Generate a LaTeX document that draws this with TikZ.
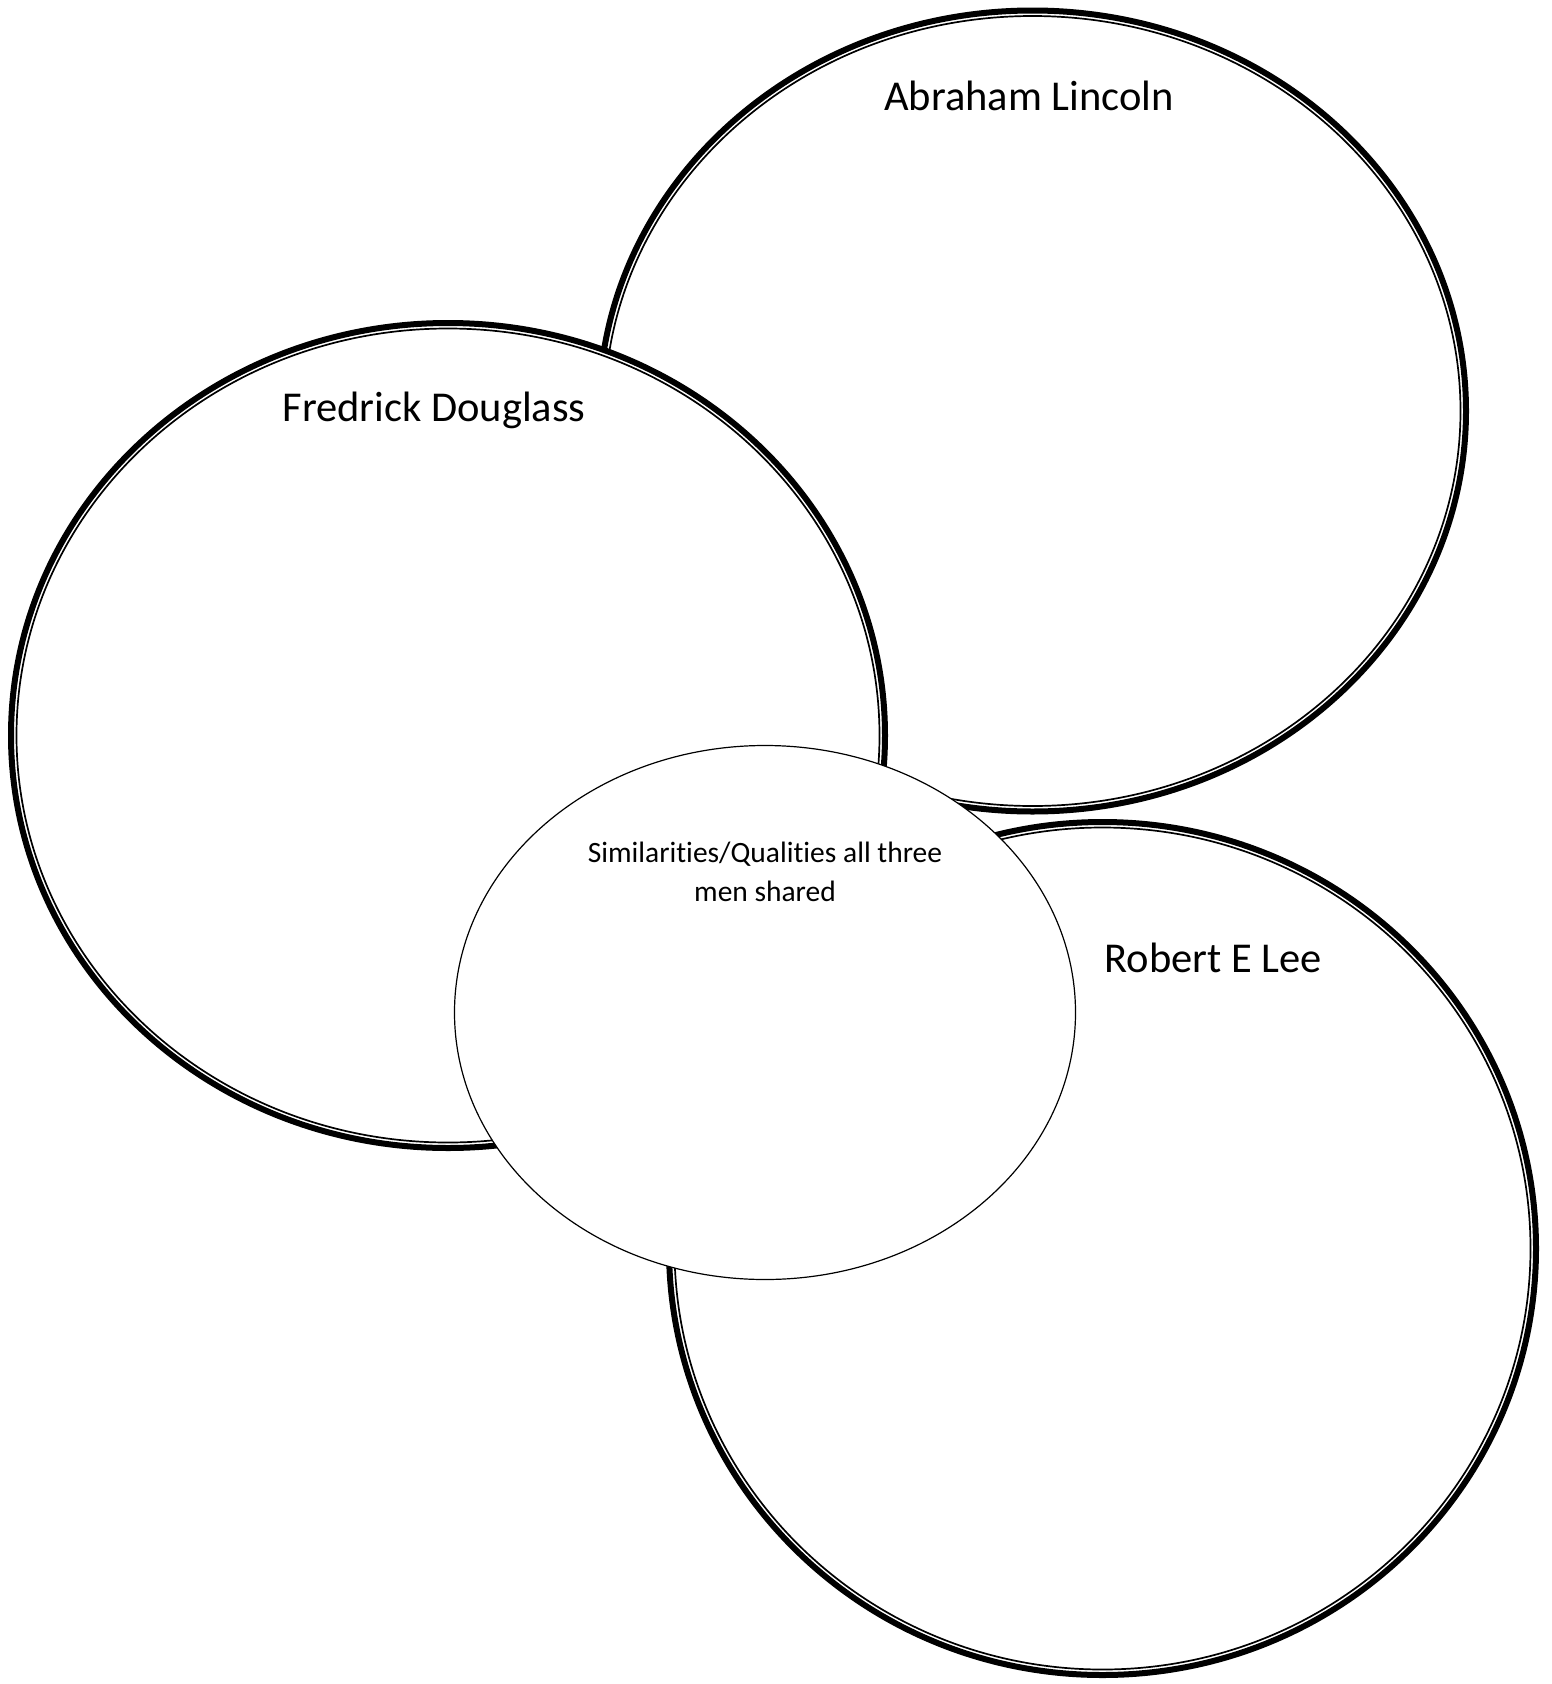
\documentclass[tikz,border=0pt]{standalone}
\usepackage{fontspec}
\setmainfont{Carlito}[Ligatures={NoCommon}]
\usetikzlibrary{shapes.geometric}
\tikzset{
ring/.style={ellipse, draw, fill=white, line width=6pt, inner sep=0pt}, % thick outer line
ringin/.style={ellipse, draw, line width=1.7pt, inner sep=0pt}, % thin inner line
mid/.style={ellipse, draw, fill=white, line width=1.2pt, inner sep=0pt},
who/.style={anchor=base, font=\fontsize{42.5}{51}\selectfont},
}
\begin{document}
\begin{tikzpicture}[x=1pt,y=-1pt]
  \useasboundingbox (0,0) rectangle (1551,1684);
  % top right
  \node[ring, minimum width=867pt, minimum height=801pt] (lincoln) at (1032.5,411) {};
  \node[ringin, minimum width=856pt, minimum height=790pt] (lincoln-in) at (lincoln.center) {};
  % left
  \node[ring, minimum width=874pt, minimum height=825pt] (douglass) at (448,735.5) {};
  \node[ringin, minimum width=863pt, minimum height=814pt] (douglass-in) at (douglass.center) {};
  % bottom right
  \node[ring, minimum width=867pt, minimum height=853pt] (lee) at (1102.5,1248.5) {};
  \node[ringin, minimum width=856pt, minimum height=842pt] (lee-in) at (lee.center) {};
  % shared
  \node[mid, minimum width=621pt, minimum height=534pt] (shared) at (765,1012.5) {};

  \node[who] (lincoln-txt) at (1029,110) {Abraham Lincoln};
  \node[who] (douglass-txt) at (434,421) {Fredrick Douglass};
  \node[who] (lee-txt) at (1213,972) {Robert E Lee};
  \node[align=center, font=\fontsize{29.5}{39}\selectfont] (shared-txt) at (765,872)
    {Similarities/Qualities all three\\men shared};
\end{tikzpicture}
\end{document}
